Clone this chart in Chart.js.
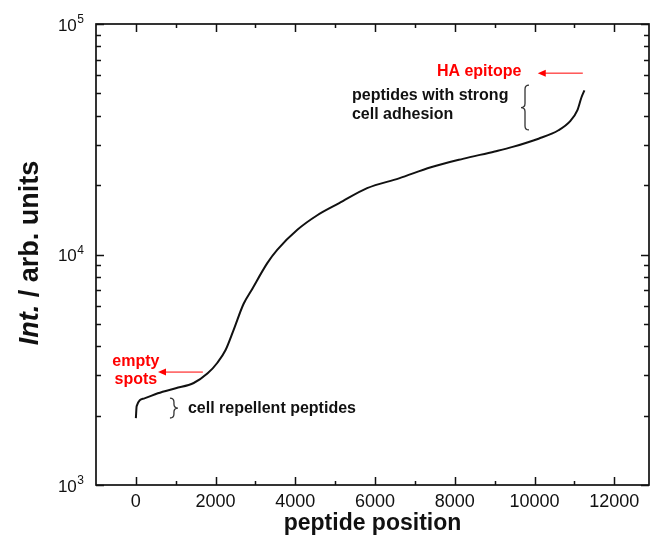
<!DOCTYPE html>
<html>
<head>
<meta charset="utf-8">
<script src="https://cdn.jsdelivr.net/npm/chart.js@4/dist/chart.umd.min.js"></script>
<style>
  html, body { margin: 0; padding: 0; background: #fff; }
  #wrap { width: 650px; height: 537px; position: relative; }
</style>
</head>
<body>
<div id="wrap"><canvas id="c"></canvas></div>
<script>
// peptide position (sorted) vs. intensity
var positions   = [0, 20, 200, 550, 1000, 1450, 1800, 2050, 2250, 2450, 2700, 2900, 3300, 3550, 4050, 4550, 5100, 5800, 6600, 7400, 8200, 9000, 9450, 10100, 10600, 10900, 11075, 11175, 11250];
var intensities = [1950, 2200, 2370, 2500, 2630, 2770, 3050, 3400, 3850, 4700, 6100, 7000, 9200, 10500, 12800, 14800, 16700, 19400, 21400, 23900, 26000, 28000, 29300, 31800, 34600, 38000, 42300, 48000, 51500];

// axis ticks
var xMajorTicks = [0, 2000, 4000, 6000, 8000, 10000, 12000];
var xMinorTicks = [-1000, 1000, 3000, 5000, 7000, 9000, 11000];
var yMajorTicks = [1000, 10000, 100000];
var yMinorTicks = [2000, 3000, 4000, 5000, 6000, 7000, 8000, 9000,
                   20000, 30000, 40000, 50000, 60000, 70000, 80000, 90000];
var yTickExponents = {1000: '3', 10000: '4', 100000: '5'};

var FONT = "'Liberation Sans', Arial, Helvetica, sans-serif";

// notes drawn on the chart, anchored in data space
var notes = [
  {text: 'HA epitope', x: 7550, y: 61900, color: '#ff0000', align: 'left'},
  {text: 'peptides with strong', x: 5420, y: 49000, color: '#111', align: 'left'},
  {text: 'cell adhesion', x: 5420, y: 40600, color: '#111', align: 'left'},
  {text: 'empty', x: 0, y: 3420, color: '#ff0000', align: 'center'},
  {text: 'spots', x: 0, y: 2857, color: '#ff0000', align: 'center'},
  {text: 'cell repellent peptides', x: 1305, y: 2138, color: '#111', align: 'left'}
];
var arrows = [
  {from: [11210, 61200], to: [10080, 61200]},
  {from: [1680, 3090], to: [555, 3090]}
];
var braces = [
  {x: 9760, y1: 54300, y2: 34700, dir: -1},
  {x: 955, y1: 2382, y2: 1953, dir: 1}
];

var decorPlugin = {
  id: 'decor',
  afterDraw: function(chart)
  {
    var ctx = chart.ctx;
    var a = chart.chartArea;
    var xs = chart.scales.x, ys = chart.scales.y;
    ctx.save();

    // frame
    ctx.strokeStyle = '#111';
    ctx.lineWidth = 1.7;
    ctx.strokeRect(a.left, a.top, a.right - a.left, a.bottom - a.top);

    // inward ticks on all four sides
    ctx.lineWidth = 1.5;
    ctx.beginPath();
    function xt(v, len)
    {
      var px = Math.round(xs.getPixelForValue(v)) + 0.5;
      if (px < a.left + 1 || px > a.right - 1) return;
      ctx.moveTo(px, a.bottom); ctx.lineTo(px, a.bottom - len);
      ctx.moveTo(px, a.top); ctx.lineTo(px, a.top + len);
    }
    function yt(v, len)
    {
      var py = Math.round(ys.getPixelForValue(v)) + 0.5;
      ctx.moveTo(a.left, py); ctx.lineTo(a.left + len, py);
      ctx.moveTo(a.right, py); ctx.lineTo(a.right - len, py);
    }
    xMajorTicks.forEach(function(v) { xt(v, 8); });
    xMinorTicks.forEach(function(v) { xt(v, 4); });
    yMajorTicks.forEach(function(v) { yt(v, 8); });
    yMinorTicks.forEach(function(v) { yt(v, 5); });
    ctx.stroke();

    // y tick labels as 10 with a raised exponent
    ctx.fillStyle = '#111';
    ctx.textBaseline = 'alphabetic';
    yMajorTicks.forEach(function(v)
    {
      var py = ys.getPixelForValue(v);
      var right = a.left - 12;
      ctx.font = '12px ' + FONT;
      var ew = ctx.measureText(yTickExponents[v]).width;
      ctx.textAlign = 'left';
      ctx.fillText(yTickExponents[v], right - ew, py - 1);
      ctx.font = '17px ' + FONT;
      ctx.textAlign = 'right';
      ctx.fillText('10', right - ew - 0.5, py + 6.5);
    });

    // y axis title: "Int." italic, rest upright
    ctx.save();
    ctx.translate(31, 253);
    ctx.rotate(-Math.PI / 2);
    ctx.fillStyle = '#111';
    ctx.textBaseline = 'middle';
    var f1 = 'italic bold 27px ' + FONT, f2 = 'bold 27px ' + FONT;
    var t1 = 'Int.', t2 = ' / arb. units';
    ctx.font = f1; var w1 = ctx.measureText(t1).width;
    ctx.font = f2; var w2 = ctx.measureText(t2).width;
    var sx = -(w1 + w2) / 2;
    ctx.font = f1; ctx.textAlign = 'left'; ctx.fillText(t1, sx, 0);
    ctx.font = f2; ctx.fillText(t2, sx + w1, 0);
    ctx.restore();

    // text notes
    ctx.font = 'bold 16px ' + FONT;
    ctx.textBaseline = 'middle';
    notes.forEach(function(n)
    {
      ctx.fillStyle = n.color;
      ctx.textAlign = n.align;
      ctx.fillText(n.text, xs.getPixelForValue(n.x), ys.getPixelForValue(n.y));
    });

    // red arrows
    ctx.strokeStyle = '#ff0000';
    ctx.fillStyle = '#ff0000';
    ctx.lineWidth = 1;
    arrows.forEach(function(ar)
    {
      var x1 = xs.getPixelForValue(ar.from[0]), y1 = ys.getPixelForValue(ar.from[1]);
      var x2 = xs.getPixelForValue(ar.to[0]), y2 = ys.getPixelForValue(ar.to[1]);
      ctx.beginPath();
      ctx.moveTo(x1, y1); ctx.lineTo(x2 + 6, y2);
      ctx.stroke();
      ctx.beginPath();
      ctx.moveTo(x2, y2); ctx.lineTo(x2 + 8, y2 - 3.5); ctx.lineTo(x2 + 8, y2 + 3.5);
      ctx.closePath();
      ctx.fill();
    });

    // curly braces
    ctx.strokeStyle = '#333';
    ctx.lineWidth = 1.3;
    braces.forEach(function(b)
    {
      var x = xs.getPixelForValue(b.x);
      var top = ys.getPixelForValue(b.y1), bot = ys.getPixelForValue(b.y2);
      var mid = (top + bot) / 2, w = 4 * b.dir, r = 4;
      ctx.beginPath();
      ctx.moveTo(x - w, top);
      ctx.quadraticCurveTo(x, top, x, top + r);
      ctx.lineTo(x, mid - r);
      ctx.quadraticCurveTo(x, mid, x + w, mid);
      ctx.quadraticCurveTo(x, mid, x, mid + r);
      ctx.lineTo(x, bot - r);
      ctx.quadraticCurveTo(x, bot, x - w, bot);
      ctx.stroke();
    });

    ctx.restore();
  }
};

var points = [];
for (var i = 0; i < positions.length; i++)
  points.push({x: positions[i], y: intensities[i]});

new Chart(document.getElementById('c').getContext('2d'), {
  type: 'line',
  data: {
    datasets: [{
      data: points,
      borderColor: '#111',
      borderWidth: 2,
      pointRadius: 0,
      fill: false,
      cubicInterpolationMode: 'monotone'
    }]
  },
  options: {
    responsive: true,
    maintainAspectRatio: false,
    animation: false,
    layout: { padding: { top: 24, right: 1, left: 0, bottom: 0 } },
    plugins: { legend: { display: false }, tooltip: { enabled: false } },
    scales: {
      x: {
        type: 'linear',
        min: -1000,
        max: 12870,
        grid: { display: false, drawTicks: false },
        border: { display: false },
        afterBuildTicks: function(s) { s.ticks = xMajorTicks.map(function(v) { return {value: v}; }); },
        afterFit: function(s) { s.height = 52; },
        ticks: {
          autoSkip: false,
          maxRotation: 0,
          padding: 6,
          color: '#111',
          font: { family: FONT, size: 18 },
          callback: function(v) { return String(v); }
        },
        title: {
          display: true,
          text: 'peptide position',
          color: '#111',
          padding: { top: 0, bottom: 0 },
          font: { family: FONT, size: 23, weight: 'bold' }
        }
      },
      y: {
        type: 'logarithmic',
        min: 1000,
        max: 100000,
        grid: { display: false, drawTicks: false },
        border: { display: false },
        afterBuildTicks: function(s) { s.ticks = yMajorTicks.map(function(v) { return {value: v}; }); },
        afterFit: function(s) { s.width = 96; },
        ticks: { display: false }
      }
    }
  },
  plugins: [decorPlugin]
});
</script>
</body>
</html>
